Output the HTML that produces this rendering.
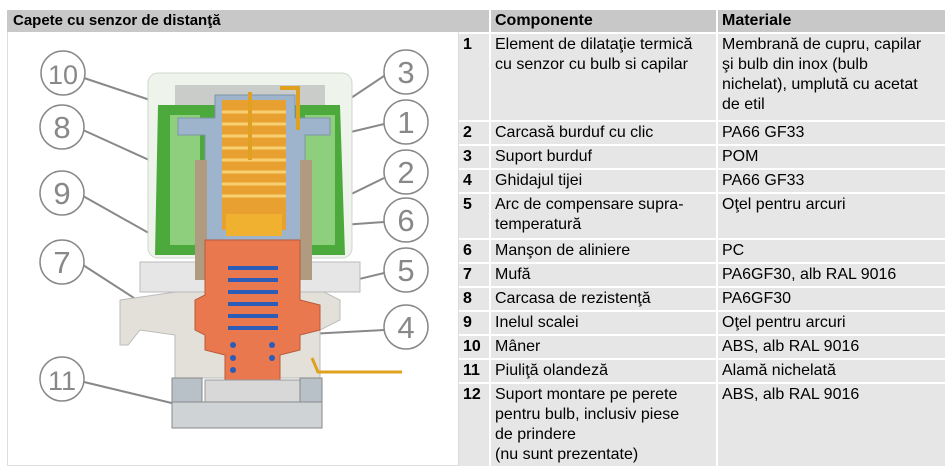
<!DOCTYPE html>
<html><head><meta charset="utf-8"><style>
body{margin:0;width:948px;height:473px;background:#fff;font-family:"Liberation Sans",sans-serif;position:relative;overflow:hidden}
.lh{position:absolute;left:7px;top:10px;width:452px;height:22px;background:#c8c8c8;font-weight:bold;font-size:15px;line-height:22px;padding-left:6px;box-sizing:border-box}
.lp{position:absolute;left:7px;top:32px;width:452px;height:434px;border:1px solid #ddd;border-top:none;box-sizing:border-box}
.c{position:absolute;background:#e6e6e6;font-size:16px;line-height:20px;padding:1px 4px;box-sizing:border-box;white-space:nowrap}
.h{background:#c8c8c8;font-weight:bold}
.b{font-weight:bold}
</style></head><body>
<div class="lh">Capete cu senzor de distanţă</div>
<div class="lp"></div>
<svg style="position:absolute;left:0;top:0" width="460" height="473">
<g fill="none" stroke="#888" stroke-width="2">
<path d="M84,78 L150,100"/><path d="M83,130 L160,165"/><path d="M83,196 L170,245"/>
<path d="M83,265 L168,320"/><path d="M84,382 L180,405"/>
<path d="M384,76 L318,120"/><path d="M384,124 L255,155"/><path d="M384,178 L288,225"/>
<path d="M384,222 L300,228"/><path d="M384,273 L272,300"/><path d="M384,330 L290,335"/>
</g>
<rect x="148" y="73" width="204" height="185" rx="10" fill="#eef4ec" stroke="#cfd8cc"/>
<path d="M158,105 L340,105 L345,255 L155,255 Z" fill="#4caa3c"/>
<rect x="170" y="115" width="30" height="130" fill="#8dcf7c"/>
<rect x="305" y="115" width="30" height="130" fill="#8dcf7c"/>
<rect x="175" y="85" width="150" height="20" fill="#c9ccc9"/>
<path d="M120,300 L190,290 L320,290 L340,300 L340,320 L320,330 L320,378 L175,378 L175,335 L140,330 L128,345 L120,345 Z" fill="#e2e0d8" stroke="#bbb"/>
<rect x="140" y="262" width="220" height="30" fill="#e6e6e6" stroke="#bbb"/>
<path d="M178,118 L215,118 L215,95 L295,95 L295,118 L330,118 L330,135 L305,135 L305,260 L205,260 L205,135 L178,135 Z" fill="#9db4cc" stroke="#7f93a8"/>
<rect x="195" y="160" width="12" height="120" fill="#b09a80"/>
<rect x="300" y="160" width="12" height="120" fill="#b09a80"/>
<rect x="222" y="100" width="64" height="130" fill="#e8a030"/>
<g stroke="#f6d070" stroke-width="3">
<path d="M222,112H286M222,124H286M222,136H286M222,148H286M222,160H286M222,172H286M222,184H286M222,196H286"/>
</g>
<rect x="226" y="214" width="56" height="22" fill="#f0b030"/>
<path d="M250,92 V160 M280,88 H298 V130" stroke="#e0a020" stroke-width="4" fill="none"/>
<path d="M205,240 L300,240 L300,300 L320,305 L320,330 L300,335 L300,350 L280,355 L280,385 L225,385 L225,355 L205,350 L205,335 L195,330 L195,300 L205,295 Z" fill="#e9784f" stroke="#b85a3a"/>
<g fill="none" stroke="#2a5cb8" stroke-width="4">
<path d="M228,268 H278 M228,280 H278 M228,292 H278 M228,304 H278 M228,316 H278 M228,328 H278"/>
</g>
<g fill="#2a5cb8"><circle cx="233" cy="345" r="3"/><circle cx="233" cy="358" r="3"/><circle cx="233" cy="370" r="3"/><circle cx="272" cy="345" r="3"/><circle cx="272" cy="358" r="3"/></g>
<rect x="205" y="380" width="95" height="22" fill="#d8d8d8" stroke="#999"/>
<rect x="172" y="378" width="30" height="50" fill="#b8c0c8" stroke="#888"/>
<rect x="300" y="378" width="22" height="50" fill="#b8c0c8" stroke="#888"/>
<rect x="172" y="402" width="150" height="26" fill="#d0d3d6" stroke="#888"/>
<path d="M312,358 L318,372 L402,372" stroke="#e0a020" stroke-width="3" fill="none"/>
<g fill="#fff" stroke="#888" stroke-width="1.5">
<circle cx="63" cy="73" r="22"/><circle cx="62" cy="127" r="22"/><circle cx="62" cy="193" r="22"/><circle cx="62" cy="262" r="22"/><circle cx="62" cy="379" r="22"/>
<circle cx="406" cy="72" r="22"/><circle cx="406" cy="122" r="22"/><circle cx="406" cy="172" r="22"/><circle cx="406" cy="220" r="22"/><circle cx="406" cy="270" r="22"/><circle cx="406" cy="327" r="22"/>
</g>
<g fill="#888" font-size="31" text-anchor="middle" font-family="Liberation Sans,sans-serif">
<text x="63" y="84" font-size="27">10</text><text x="62" y="138">8</text><text x="62" y="204">9</text><text x="62" y="273">7</text><text x="62" y="390" font-size="27">11</text>
<text x="406" y="83">3</text><text x="406" y="133">1</text><text x="406" y="183">2</text><text x="406" y="231">6</text><text x="406" y="281">5</text><text x="406" y="338">4</text>
</g>
</svg>

<div class="c h" style="left:459px;top:10px;width:30px;height:22px"></div>
<div class="c h" style="left:491px;top:10px;width:225px;height:22px">Componente</div>
<div class="c h" style="left:718px;top:10px;width:227px;height:22px">Materiale</div>

<div class="c b" style="left:459px;top:34px;width:30px;height:86px">1</div>
<div class="c" style="left:491px;top:34px;width:225px;height:86px">Element de dilataţie termică<br>cu senzor cu bulb si capilar</div>
<div class="c" style="left:718px;top:34px;width:227px;height:86px">Membrană de cupru, capilar<br>şi bulb din inox (bulb<br>nichelat), umplută cu acetat<br>de etil</div>

<div class="c b" style="left:459px;top:122px;width:30px;height:22px">2</div>
<div class="c" style="left:491px;top:122px;width:225px;height:22px">Carcasă burduf cu clic</div>
<div class="c" style="left:718px;top:122px;width:227px;height:22px">PA66 GF33</div>

<div class="c b" style="left:459px;top:146px;width:30px;height:22px">3</div>
<div class="c" style="left:491px;top:146px;width:225px;height:22px">Suport burduf</div>
<div class="c" style="left:718px;top:146px;width:227px;height:22px">POM</div>

<div class="c b" style="left:459px;top:170px;width:30px;height:22px">4</div>
<div class="c" style="left:491px;top:170px;width:225px;height:22px">Ghidajul tijei</div>
<div class="c" style="left:718px;top:170px;width:227px;height:22px">PA66 GF33</div>

<div class="c b" style="left:459px;top:194px;width:30px;height:44px">5</div>
<div class="c" style="left:491px;top:194px;width:225px;height:44px">Arc de compensare supra-<br>temperatură</div>
<div class="c" style="left:718px;top:194px;width:227px;height:44px">Oţel pentru arcuri</div>

<div class="c b" style="left:459px;top:240px;width:30px;height:22px">6</div>
<div class="c" style="left:491px;top:240px;width:225px;height:22px">Manşon de aliniere</div>
<div class="c" style="left:718px;top:240px;width:227px;height:22px">PC</div>

<div class="c b" style="left:459px;top:264px;width:30px;height:22px">7</div>
<div class="c" style="left:491px;top:264px;width:225px;height:22px">Mufă</div>
<div class="c" style="left:718px;top:264px;width:227px;height:22px">PA6GF30, alb RAL 9016</div>

<div class="c b" style="left:459px;top:288px;width:30px;height:22px">8</div>
<div class="c" style="left:491px;top:288px;width:225px;height:22px">Carcasa de rezistenţă</div>
<div class="c" style="left:718px;top:288px;width:227px;height:22px">PA6GF30</div>

<div class="c b" style="left:459px;top:312px;width:30px;height:22px">9</div>
<div class="c" style="left:491px;top:312px;width:225px;height:22px">Inelul scalei</div>
<div class="c" style="left:718px;top:312px;width:227px;height:22px">Oţel pentru arcuri</div>

<div class="c b" style="left:459px;top:336px;width:30px;height:22px">10</div>
<div class="c" style="left:491px;top:336px;width:225px;height:22px">Mâner</div>
<div class="c" style="left:718px;top:336px;width:227px;height:22px">ABS, alb RAL 9016</div>

<div class="c b" style="left:459px;top:360px;width:30px;height:22px">11</div>
<div class="c" style="left:491px;top:360px;width:225px;height:22px">Piuliţă olandeză</div>
<div class="c" style="left:718px;top:360px;width:227px;height:22px">Alamă nichelată</div>

<div class="c b" style="left:459px;top:384px;width:30px;height:82px">12</div>
<div class="c" style="left:491px;top:384px;width:225px;height:82px">Suport montare pe perete<br>pentru bulb, inclusiv piese<br>de prindere<br>(nu sunt prezentate)</div>
<div class="c" style="left:718px;top:384px;width:227px;height:82px">ABS, alb RAL 9016</div>
</body></html>
